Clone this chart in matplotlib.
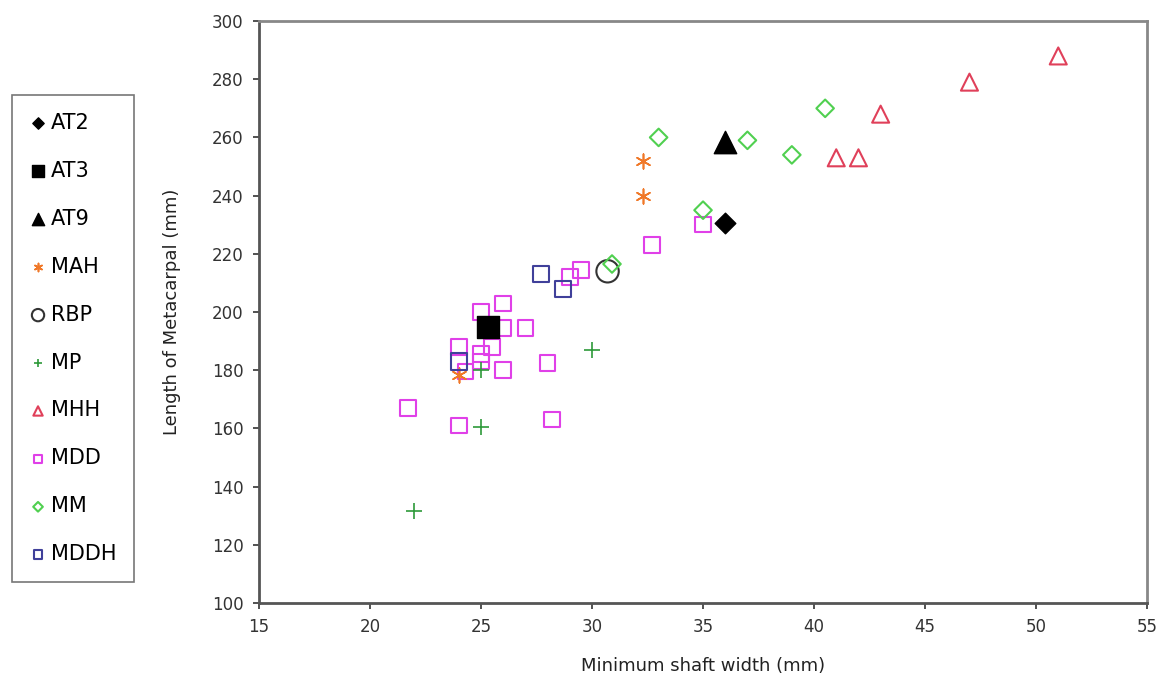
import matplotlib.pyplot as plt

# Minimum shaft width (mm) vs length of metacarpal (mm), per group
at2_x = [36.0]
at2_y = [230.5]
at3_x = [25.3]
at3_y = [195.0]
at9_x = [36.0]
at9_y = [258.5]
mah_x = [32.3, 32.3, 24.0]
mah_y = [252.0, 240.0, 178.5]
rbp_x = [30.7]
rbp_y = [214.0]
mp_x = [30.0, 25.0, 25.0, 22.0]
mp_y = [187.0, 180.0, 160.5, 131.5]
mhh_x = [51.0, 47.0, 43.0, 41.0, 42.0]
mhh_y = [288.0, 279.0, 268.0, 253.0, 253.0]
mdd_x = [35.0, 32.7, 29.5, 29.0, 26.0, 25.0, 26.0, 27.0, 25.5, 24.0,
         25.0, 25.0, 26.0, 28.0, 24.3, 21.7, 24.0, 28.2]
mdd_y = [230.0, 223.0, 214.5, 212.0, 203.0, 200.0, 194.5, 194.5, 188.0, 188.0,
         185.5, 183.0, 180.0, 182.5, 179.5, 167.0, 161.0, 163.0]
mm_x = [33.0, 37.0, 40.5, 39.0, 35.0, 30.9]
mm_y = [260.0, 259.0, 270.0, 254.0, 235.0, 216.5]
mddh_x = [27.7, 28.7, 24.0]
mddh_y = [213.0, 208.0, 183.0]

fig = plt.figure(figsize=(11.63, 6.85), dpi=100)
ax = fig.add_axes([0.2227, 0.1197, 0.7636, 0.8496])

ax.scatter(at2_x, at2_y, marker='D', s=110, c='black', label='AT2', zorder=3)
ax.scatter(at3_x, at3_y, marker='s', s=240, c='black', label='AT3', zorder=3)
ax.scatter(at9_x, at9_y, marker='^', s=260, c='black', label='AT9', zorder=3)
ax.scatter(mah_x, mah_y, marker=(6, 2, 0), s=110, c='#F07828', linewidths=1.2,
           label='MAH', zorder=3)
ax.scatter(rbp_x, rbp_y, marker='o', s=260, facecolors='none',
           edgecolors='#333333', linewidths=1.5, label='RBP', zorder=3)
ax.scatter(mp_x, mp_y, marker='+', s=120, c='#2E9A3A', linewidths=1.2,
           label='MP', zorder=3)
ax.scatter(mhh_x, mhh_y, marker='^', s=150, facecolors='none',
           edgecolors='#E0405A', linewidths=1.5, label='MHH', zorder=3)
ax.scatter(mdd_x, mdd_y, marker='s', s=125, facecolors='none',
           edgecolors='#E040E8', linewidths=1.5, label='MDD', zorder=2)
ax.scatter(mm_x, mm_y, marker='D', s=80, facecolors='none',
           edgecolors='#50D050', linewidths=1.5, label='MM', zorder=3)
ax.scatter(mddh_x, mddh_y, marker='s', s=135, facecolors='none',
           edgecolors='#40409A', linewidths=1.5, label='MDDH', zorder=3)

ax.set_xlim(15, 55)
ax.set_ylim(100, 300)
ax.set_xticks(range(15, 56, 5))
ax.set_yticks(range(100, 301, 20))
ax.tick_params(labelsize=12, colors='#333333', length=4, width=1.2,
               direction='out', pad=7)
for side in ['left', 'bottom']:
    ax.spines[side].set_color('#555555')
    ax.spines[side].set_linewidth(2)
for side in ['top', 'right']:
    ax.spines[side].set_color('#888888')
    ax.spines[side].set_linewidth(2)

ax.set_xlabel('Minimum shaft width (mm)', fontsize=13, labelpad=15, color='#222222')
ax.set_ylabel('Length of Metacarpal (mm)', fontsize=13, labelpad=22, color='#222222')

leg = fig.legend(loc='upper left', bbox_to_anchor=(0.0103, 0.861),
                 fontsize=15, markerscale=0.55, handletextpad=0.2,
                 handlelength=0.8, labelspacing=1.34, borderpad=0.85,
                 borderaxespad=0, fancybox=False, frameon=True, scatterpoints=1)
leg.get_frame().set_edgecolor('#555555')
leg.get_frame().set_linewidth(1.2)

fig.savefig('out.png', dpi=100, facecolor='white')
